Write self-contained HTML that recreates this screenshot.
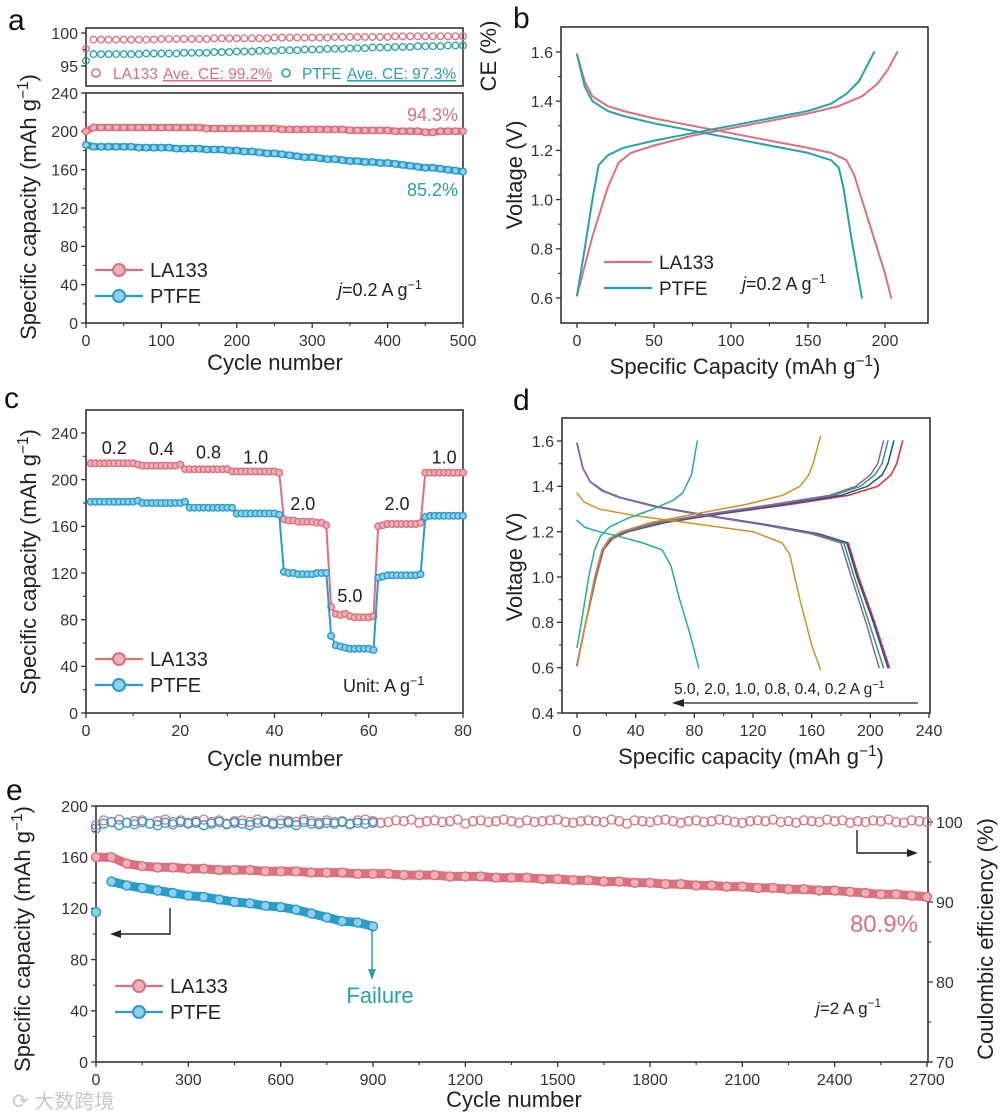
<!DOCTYPE html>
<html><head><meta charset="utf-8">
<style>
html,body{margin:0;padding:0;background:#fff;}
svg{display:block;font-family:"Liberation Sans","Noto Sans CJK SC",sans-serif;}
</style></head>
<body>
<svg id="fig" width="1000" height="1115" viewBox="0 0 1000 1115" xmlns="http://www.w3.org/2000/svg"></svg>
<script>
// ---------- Panel a data ----------
const aCapCycles = [0,10,20,30,40,50,60,70,80,90,100,110,120,130,140,150,160,170,180,190,200,210,220,230,240,250,260,270,280,290,300,310,320,330,340,350,360,370,380,390,400,410,420,430,440,450,460,470,480,490,500];
const aLaCap = [200,204,204,204,204,204,204,204,204,204,204,204,204,204,204,204,203,203,203,203,203,203,203,203,203,203,202,202,202,202,202,202,202,202,202,201,201,201,201,201,201,200,200,200,200,199,199,200,200,200,200];
const aPtCap = [186,184,184,184,184,184,184,183,183,183,183,183,182,182,182,182,181,181,181,180,180,179,179,178,177,177,176,175,174,173,173,172,171,171,170,169,169,168,168,167,167,166,165,164,163,162,162,161,160,159,158];
const aLaCE = [97.6,99.0,99.0,99.0,99.0,99.0,99.0,99.0,99.0,99.0,99.1,99.1,99.1,99.1,99.1,99.1,99.1,99.2,99.2,99.2,99.2,99.2,99.2,99.2,99.2,99.3,99.3,99.3,99.3,99.3,99.3,99.3,99.3,99.4,99.4,99.4,99.4,99.4,99.4,99.4,99.4,99.5,99.5,99.5,99.5,99.5,99.5,99.5,99.5,99.5,99.5];
const aPtCE = [95.8,96.8,96.8,96.8,96.8,96.8,96.8,96.8,96.9,96.9,96.9,96.9,96.9,97.0,97.0,97.0,97.0,97.1,97.1,97.1,97.2,97.2,97.2,97.3,97.3,97.3,97.4,97.4,97.4,97.5,97.5,97.5,97.6,97.6,97.6,97.7,97.7,97.7,97.8,97.8,97.8,97.9,97.9,97.9,98.0,98.0,98.0,98.0,98.1,98.1,98.1];
const aXTicks = [0,100,200,300,400,500];
const aYTicks = [0,40,80,120,160,200,240];
const aCETicks = [95,100];

// ---------- Panel b data ----------
const bLaChgCap = [0,10,20,27,35,50,75,100,125,150,170,185,195,202,208];
const bLaChgV   = [0.61,0.85,1.05,1.15,1.19,1.22,1.26,1.29,1.32,1.35,1.38,1.42,1.47,1.53,1.60];
const bLaDisCap = [0,5,10,20,30,50,75,100,125,150,165,175,180,190,200,204];
const bLaDisV   = [1.59,1.48,1.42,1.38,1.36,1.33,1.30,1.27,1.24,1.21,1.19,1.16,1.10,0.90,0.70,0.60];
const bPtChgCap = [0,5,10,14,20,30,50,75,100,125,150,165,175,183,188,193];
const bPtChgV   = [0.61,0.80,1.00,1.14,1.18,1.21,1.24,1.27,1.30,1.33,1.36,1.39,1.43,1.48,1.54,1.60];
const bPtDisCap = [0,5,10,20,30,50,75,100,125,150,165,170,173,178,185];
const bPtDisV   = [1.59,1.46,1.40,1.36,1.34,1.31,1.28,1.25,1.22,1.19,1.16,1.13,1.05,0.85,0.60];
const bXTicks = [0,50,100,150,200];
const bYTicks = [0.6,0.8,1.0,1.2,1.4,1.6];

// ---------- Panel c data ----------
const cCycles = [1,2,3,4,5,6,7,8,9,10,11,12,13,14,15,16,17,18,19,20,21,22,23,24,25,26,27,28,29,30,31,32,33,34,35,36,37,38,39,40,41,42,43,44,45,46,47,48,49,50,51,52,53,54,55,56,57,58,59,60,61,62,63,64,65,66,67,68,69,70,71,72,73,74,75,76,77,78,79,80];
const cLa = [214,214,214,214,214,214,214,214,214,214,213,212,212,212,212,212,212,212,212,213,209,209,209,209,209,209,209,209,209,209,207,207,207,207,207,207,207,207,207,207,206,166,165,165,164,164,164,164,163,163,161,91,85,84,85,83,82,82,82,82,83,160,161,162,162,162,162,162,162,162,163,206,206,206,206,206,206,206,206,206];
const cPt = [181,181,181,181,181,181,181,181,181,181,182,180,180,180,180,180,180,180,180,180,181,176,176,176,176,176,176,176,176,176,176,171,171,171,171,171,171,171,171,171,170,121,120,120,119,119,119,119,120,120,120,66,58,57,56,55,55,55,55,55,54,116,117,118,118,118,118,118,118,118,119,168,169,169,169,169,169,169,169,169];
const cXTicks = [0,20,40,60,80];
const cYTicks = [0,40,80,120,160,200,240];
const cRateLabels = ["0.2","0.4","0.8","1.0","2.0","5.0","2.0","1.0"];
const cRateCycles = [6,16,26,36,46,56,66,76];
const cRateCaps = [222,221,218,214,174,95,174,214];

// ---------- Panel d data ----------
const dDisV4 = [1.59,1.48,1.42,1.38,1.35,1.31,1.27,1.23,1.19,1.15,1.0,0.8,0.6];
const dDis02 = [0,4,9,18,30,55,90,130,165,185,192,203,213];
const dDis04 = [0,4,9,18,30,55,90,130,164,184,191,202,212];
const dDis08 = [0,4,9,18,30,54,89,128,162,182,189,199,209];
const dDis10 = [0,4,9,17,29,53,88,127,160,180,187,197,206];
const dChgV4 = [0.61,0.8,1.0,1.12,1.17,1.2,1.24,1.28,1.32,1.36,1.4,1.45,1.5,1.6];
const dChg02 = [0,6,13,18,24,35,60,100,145,185,205,214,218,222];
const dChg04 = [0,6,13,18,24,34,58,97,140,180,198,208,212,216];
const dChg08 = [0,6,13,18,23,33,56,94,136,175,193,203,208,212];
const dChg10 = [0,6,13,18,23,32,54,92,133,172,190,200,205,209];
const dChg20V = [0.62,0.8,1.0,1.12,1.17,1.2,1.24,1.28,1.32,1.36,1.4,1.45,1.5,1.62];
const dChg20 = [0,6,12,17,22,30,50,82,115,140,152,158,161,166];
const dDis20V = [1.37,1.33,1.3,1.27,1.24,1.2,1.15,1.1,0.9,0.7,0.59];
const dDis20 = [0,5,15,40,75,120,140,145,152,160,166];
const dChg50V = [0.69,0.8,1.0,1.12,1.18,1.22,1.26,1.3,1.34,1.37,1.45,1.6];
const dChg50 = [0,3,8,12,16,22,35,52,66,72,78,82];
const dDis50V = [1.25,1.22,1.2,1.18,1.15,1.12,1.05,0.9,0.75,0.6];
const dDis50 = [0,5,15,28,45,58,64,70,77,83];
const dXTicks = [0,40,80,120,160,200,240];
const dYTicks = [0.4,0.6,0.8,1.0,1.2,1.4,1.6];

// ---------- Panel e data ----------
const eLaCycles = [0,50,100,150,200,250,300,350,400,450,500,550,600,650,700,750,800,850,900,950,1000,1050,1100,1150,1200,1250,1300,1350,1400,1450,1500,1550,1600,1650,1700,1750,1800,1850,1900,1950,2000,2050,2100,2150,2200,2250,2300,2350,2400,2450,2500,2550,2600,2650,2700];
const eLaCap = [160,160,155,153,152,152,151,151,150,150,150,149,149,149,148,148,148,147,147,147,146,146,146,145,145,145,144,144,144,143,143,142,142,141,141,140,140,139,139,138,138,137,137,136,136,135,135,134,134,133,132,131,131,130,129];
const ePtCycles = [0,50,100,150,200,250,300,350,400,450,500,550,600,650,700,750,800,850,900];
const ePtCap = [117,141,138,136,134,132,130,129,127,125,124,122,121,119,116,113,110,109,106];
const eLaCE = [99.6,100.2,100.0,100.3,99.9,100.1,100.2,99.8,100.1,100.3,100.0,100.2,99.9,100.1,100.3,100.0,100.2,99.8,100.1,100.2,100.0,100.3,100.1,99.9,100.2,100.1,100.0,100.3,100.1,99.9,100.2,100.0,100.1,99.8,100.2,100.3,100.1,99.9,100.0,100.2,100.1,100.3,99.9,100.1,100.2,100.0,100.1,100.3,99.8,100.1,100.2,100.0,100.1,100.3,100.1,99.9,100.2,100.0,100.1,100.2,100.3,100.0,99.9,100.1,100.2,100.1,100.0,100.3,100.1,99.8,100.2,100.1,100.0,100.2,100.3,100.1,99.9,100.1,100.2,100.0,100.1,100.3,100.2,100.0,99.9,100.1,100.2,100.1,100.3,100.0,100.1,99.9,100.2,100.1,100.0,100.3,100.1,100.2,99.9,100.1,100.0,100.2,100.1,100.3,100.0,99.9,100.2,100.1,100.0];
const ePtCE = [99.2,99.8,100.0,99.6,99.9,99.7,100.0,99.8,99.6,99.9,99.7,100.0,99.8,99.9,99.6,99.8,100.0,99.7,99.9,99.8,99.6,99.9,100.0,99.7,99.8,99.9,99.6,100.0,99.8,99.7,99.9,99.8,100.0,99.7,99.9,99.8,99.9];
const eCEStep = 25;
const eXTicks = [0,300,600,900,1200,1500,1800,2100,2400,2700];
const eYTicks = [0,40,80,120,160,200];
const eRTicks = [70,80,90,100];

// ---------- helpers ----------
const NS = "http://www.w3.org/2000/svg";
const svg = document.getElementById('fig');
const PINK = "#d9717f", PINKL = "#eeb0b8", BLUE = "#2b9bc9", BLUEL = "#8fd0ea", TEAL = "#2aa0a8", AX = "#333";
function mk(tag, attrs, parent) {
  const e = document.createElementNS(NS, tag);
  for (const k in attrs) e.setAttribute(k, attrs[k]);
  (parent || svg).appendChild(e);
  return e;
}
function lin(d0, d1, r0, r1) { return v => r0 + (v - d0) * (r1 - r0) / (d1 - d0); }
function txt(x, y, s, size, attrs, parent) {
  const t = mk('text', Object.assign({x: x, y: y, 'font-size': size, fill: AX}, attrs || {}), parent);
  t.textContent = s;
  return t;
}
function box(x0, y0, x1, y1, name) {
  const r = mk('rect', {x: x0, y: y0, width: x1 - x0, height: y1 - y0, fill: 'none', stroke: AX, 'stroke-width': 1.6});
  
  
}
function xAxis(ticks, sx, y, fs, name, fmt) {
  const g = mk('g', {});
  
  
  for (let i = 0; i < ticks.length; i++) {
    const x = sx(ticks[i]);
    mk('line', {x1: x, x2: x, y1: y, y2: y + 5, stroke: AX, 'stroke-width': 1.3}, g);
    if (i < ticks.length - 1) { const xm = sx((ticks[i] + ticks[i + 1]) / 2); mk('line', {x1: xm, x2: xm, y1: y, y2: y + 3, stroke: AX, 'stroke-width': 1.1}, g); }
    const t = txt(x, y + 7 + fs, fmt ? fmt(ticks[i]) : String(ticks[i]), fs, {'text-anchor': 'middle'}, g);
    
    
  }
}
function yAxis(ticks, sy, x, fs, name, fmt, right) {
  const g = mk('g', {});
  
  
  const d = right ? 1 : -1;
  for (let i = 0; i < ticks.length; i++) {
    const y = sy(ticks[i]);
    mk('line', {x1: x, x2: x + d * 5, y1: y, y2: y, stroke: AX, 'stroke-width': 1.3}, g);
    if (i < ticks.length - 1) { const ym = sy((ticks[i] + ticks[i + 1]) / 2); mk('line', {x1: x, x2: x + d * 3, y1: ym, y2: ym, stroke: AX, 'stroke-width': 1.1}, g); }
    const t = txt(x + d * 8, y + fs * 0.36, fmt ? fmt(ticks[i]) : String(ticks[i]), fs, {'text-anchor': right ? 'start' : 'end'}, g);
    
    
  }
}
function rotText(x, y, s, size, name, sup) {
  const t = mk('text', {x: 0, y: 0, 'font-size': size, fill: '#222', 'text-anchor': 'middle', transform: 'translate(' + x + ',' + y + ') rotate(-90)'});
  
  
  t.innerHTML = s;
  return t;
}
function path(xs, ys, sx, sy, color, w, name, from) {
  let d = '';
  for (let i = from || 0; i < xs.length; i++) d += (d ? 'L' : 'M') + sx(xs[i]).toFixed(1) + ',' + sy(ys[i]).toFixed(1);
  const p = mk('path', {d: d, fill: 'none', stroke: color, 'stroke-width': w, 'stroke-linejoin': 'round', 'stroke-linecap': 'round'});
  
  
  return p;
}
function dots(xs, ys, sx, sy, color, light, r, name, open) {
  const g = mk('g', {});
  
  
  for (let i = 0; i < xs.length; i++) {
    const c = mk('circle', {cx: sx(xs[i]).toFixed(1), cy: sy(ys[i]).toFixed(1), r: r, fill: open ? 'none' : light, stroke: color, 'stroke-width': open ? 1.3 : 1.4}, g);
    
    
  }
}
const SUP = '<tspan baseline-shift="super" font-size="70%">−1</tspan>';
function panelLabel(x, y, s) {
  const t = txt(x, y, s, 30, {fill: '#111'});
  
  
}
function legendRow(x, y, color, light, label, marker, fs) {
  const g = mk('g', {});
  
  
  mk('line', {x1: x, x2: x + 48, y1: y, y2: y, stroke: color, 'stroke-width': 2.2}, g);
  if (marker) mk('circle', {cx: x + 24, cy: y, r: 6, fill: light, stroke: color, 'stroke-width': 2}, g);
  txt(x + 55, y + fs * 0.36, label, fs, {fill: '#222'}, g);
}

// ---------- Panel a ----------
panelLabel(8, 30, 'a');
{
  const sx = lin(0, 500, 86, 463);
  const syc = lin(95, 100, 66, 33);
  const sy = lin(0, 240, 323, 93);
  // CE box
  box(86, 28, 463, 86, 'ce-plot-frame');
  yAxis(aCETicks, syc, 86, 16, 'ce-y-axis');
  dots(aCapCycles, aLaCE, sx, syc, PINK, '', 3.3, 'la133-ce-series', true);
  dots(aCapCycles, aPtCE, sx, syc, TEAL, '', 3.3, 'ptfe-ce-series', true);
  const lg = mk('g', {});
  
  
  mk('circle', {cx: 96, cy: 73, r: 4, fill: 'none', stroke: PINK, 'stroke-width': 1.6}, lg);
  txt(113, 79, 'LA133 ', 15.5, {fill: PINK}, lg);
  txt(163, 79, 'Ave. CE: 99.2%', 15.5, {fill: PINK, 'text-decoration': 'underline'}, lg);
  mk('circle', {cx: 286, cy: 73, r: 4, fill: 'none', stroke: TEAL, 'stroke-width': 1.6}, lg);
  txt(302, 79, 'PTFE ', 15.5, {fill: TEAL}, lg);
  txt(347, 79, 'Ave. CE: 97.3%', 15.5, {fill: TEAL, 'text-decoration': 'underline'}, lg);
  // capacity
  box(86, 93, 463, 323, 'capacity-plot-frame');
  xAxis(aXTicks, sx, 323, 16, 'a-x-axis');
  yAxis(aYTicks, sy, 86, 16, 'a-y-axis');
  path(aCapCycles, aLaCap, sx, sy, PINK, 7, 'la133-capacity-line');
  dots(aCapCycles, aLaCap, sx, sy, PINK, PINKL, 3.3, 'la133-capacity-series');
  path(aCapCycles, aPtCap, sx, sy, BLUE, 7, 'ptfe-capacity-line');
  dots(aCapCycles, aPtCap, sx, sy, BLUE, BLUEL, 3.3, 'ptfe-capacity-series');
  let t = txt(458, 121, '94.3%', 18, {fill: PINK, 'text-anchor': 'end'});  
  t = txt(458, 196, '85.2%', 18, {fill: TEAL, 'text-anchor': 'end'});  
  legendRow(95, 270, PINK, PINKL, 'LA133', true, 20);
  legendRow(95, 296, BLUE, BLUEL, 'PTFE', true, 20);
  t = mk('text', {x: 338, y: 296, 'font-size': 18, fill: '#222'}); t.innerHTML = '<tspan font-style="italic">j</tspan>=0.2 A g' + SUP;  
  t = txt(275, 370, 'Cycle number', 22, {'text-anchor': 'middle', fill: '#222'});  
  rotText(36, 207, 'Specific capacity (mAh g' + SUP + ')', 22, 'y-axis-title');
  rotText(496, 56, 'CE (%)', 22, 'ce-axis-title');
}

// ---------- Panel b ----------
panelLabel(513, 28, 'b');
{
  const sx = lin(0, 200, 577, 885);
  const sy = lin(0.6, 1.6, 298, 52);
  box(561, 27, 928, 323, 'b-plot-frame');
  xAxis(bXTicks, sx, 323, 16, 'b-x-axis');
  yAxis(bYTicks, sy, 561, 16, 'b-y-axis', v => v.toFixed(1));
  path(bLaChgCap, bLaChgV, sx, sy, PINK, 2, 'la133-charge-curve');
  path(bLaDisCap, bLaDisV, sx, sy, PINK, 2, 'la133-discharge-curve');
  path(bPtChgCap, bPtChgV, sx, sy, TEAL, 2, 'ptfe-charge-curve');
  path(bPtDisCap, bPtDisV, sx, sy, TEAL, 2, 'ptfe-discharge-curve');
  legendRow(604, 262, PINK, '', 'LA133', false, 19);
  legendRow(604, 288, TEAL, '', 'PTFE', false, 19);
  let t = mk('text', {x: 742, y: 290, 'font-size': 18, fill: '#222'}); t.innerHTML = '<tspan font-style="italic">j</tspan>=0.2 A g' + SUP;  
  t = mk('text', {x: 745, y: 374, 'font-size': 22, fill: '#222', 'text-anchor': 'middle'}); t.innerHTML = 'Specific Capacity (mAh g' + SUP + ')';  
  rotText(522, 175, 'Voltage (V)', 22, 'y-axis-title');
}

// ---------- Panel c ----------
panelLabel(4, 408, 'c');
{
  const sx = lin(0, 80, 86, 463);
  const sy = lin(0, 240, 713, 433);
  box(86, 410, 463, 713, 'c-plot-frame');
  xAxis(cXTicks, sx, 713, 16, 'c-x-axis');
  yAxis(cYTicks, sy, 86, 16, 'c-y-axis');
  path(cCycles, cLa, sx, sy, PINK, 2, 'la133-rate-line');
  dots(cCycles, cLa, sx, sy, PINK, PINKL, 3.3, 'la133-rate-series');
  path(cCycles, cPt, sx, sy, BLUE, 2, 'ptfe-rate-line');
  dots(cCycles, cPt, sx, sy, BLUE, BLUEL, 3.3, 'ptfe-rate-series');
  for (let i = 0; i < cRateLabels.length; i++) {
    const t = txt(sx(cRateCycles[i]), sy(cRateCaps[i]), cRateLabels[i], 18, {'text-anchor': 'middle', fill: '#222'});
    
    
  }
  legendRow(95, 659, PINK, PINKL, 'LA133', true, 20);
  legendRow(95, 685, BLUE, BLUEL, 'PTFE', true, 20);
  let t = mk('text', {x: 343, y: 692, 'font-size': 18, fill: '#222'}); t.innerHTML = 'Unit: A g' + SUP;  
  t = txt(275, 766, 'Cycle number', 22, {'text-anchor': 'middle', fill: '#222'});  
  rotText(36, 562, 'Specific capacity (mAh g' + SUP + ')', 22, 'y-axis-title');
}

// ---------- Panel d ----------
panelLabel(513, 410, 'd');
{
  const sx = lin(0, 240, 577, 929);
  const sy = lin(0.4, 1.6, 713, 441);
  box(562, 418, 930, 713, 'd-plot-frame');
  xAxis(dXTicks, sx, 713, 16, 'd-x-axis');
  yAxis(dYTicks, sy, 562, 16, 'd-y-axis', v => v.toFixed(1));
  const C02 = '#d42e3a', C04 = '#1f4f9e', C08 = '#3c9a55', C10 = '#8b62b3', C20 = '#c8952c', C50 = '#25aba3';
  path(dDis02, dDisV4, sx, sy, C02, 1.5, 'discharge-0.2');
  path(dChg02, dChgV4, sx, sy, C02, 1.5, 'charge-0.2');
  path(dDis04, dDisV4, sx, sy, C04, 1.5, 'discharge-0.4');
  path(dChg04, dChgV4, sx, sy, C04, 1.5, 'charge-0.4');
  path(dDis08, dDisV4, sx, sy, C08, 1.5, 'discharge-0.8');
  path(dChg08, dChgV4, sx, sy, C08, 1.5, 'charge-0.8');
  path(dDis10, dDisV4, sx, sy, C10, 1.5, 'discharge-1.0');
  path(dChg10, dChgV4, sx, sy, C10, 1.5, 'charge-1.0');
  path(dDis20, dDis20V, sx, sy, C20, 1.5, 'discharge-2.0');
  path(dChg20, dChg20V, sx, sy, C20, 1.5, 'charge-2.0');
  path(dDis50, dDis50V, sx, sy, C50, 1.5, 'discharge-5.0');
  path(dChg50, dChg50V, sx, sy, C50, 1.5, 'charge-5.0');
  let t = mk('text', {x: 674, y: 694, 'font-size': 15.5, fill: '#222'}); t.innerHTML = '5.0, 2.0, 1.0, 0.8, 0.4, 0.2 A g' + SUP;  
  const ar = mk('g', {});  
  mk('line', {x1: 918, x2: 680, y1: 703, y2: 703, stroke: '#222', 'stroke-width': 1.3}, ar);
  mk('path', {d: 'M672,703 L684,699 L684,707 Z', fill: '#222'}, ar);
  t = mk('text', {x: 751, y: 764, 'font-size': 22, fill: '#222', 'text-anchor': 'middle'}); t.innerHTML = 'Specific capacity (mAh g' + SUP + ')';  
  rotText(522, 567, 'Voltage (V)', 22, 'y-axis-title');
}

// ---------- Panel e ----------
panelLabel(6, 800, 'e');
{
  const sx = lin(0, 2700, 96, 927);
  const sy = lin(0, 200, 1062, 806);
  const sr = lin(70, 100, 1062, 822);
  box(96, 806, 928, 1062, 'e-plot-frame');
  xAxis(eXTicks, sx, 1062, 16, 'e-x-axis');
  yAxis(eYTicks, sy, 96, 16, 'e-y-axis');
  yAxis(eRTicks, sr, 928, 16, 'e-right-y-axis', null, true);
  const laCECycles = eLaCE.map((v, i) => i * eCEStep);
  const ptCECycles = ePtCE.map((v, i) => i * eCEStep);
  dots(laCECycles, eLaCE, sx, sr, PINK, '', 4.5, 'la133-ce-series', true);
  dots(ptCECycles, ePtCE, sx, sr, BLUE, '', 4.5, 'ptfe-ce-series', true);
  path(eLaCycles, eLaCap, sx, sy, PINK, 9, 'la133-capacity-line');
  dots(eLaCycles, eLaCap, sx, sy, PINK, PINKL, 4.5, 'la133-capacity-series');
  path(ePtCycles, ePtCap, sx, sy, BLUE, 9, 'ptfe-capacity-line', 1);
  dots(ePtCycles, ePtCap, sx, sy, BLUE, BLUEL, 4.5, 'ptfe-capacity-series');
  const a1 = mk('g', {});  
  mk('path', {d: 'M170,908 L170,934 L118,934', fill: 'none', stroke: '#222', 'stroke-width': 1.4}, a1);
  mk('path', {d: 'M110,934 L121,930 L121,938 Z', fill: '#222'}, a1);
  const a2 = mk('g', {});  
  mk('path', {d: 'M857,830 L857,853 L910,853', fill: 'none', stroke: '#222', 'stroke-width': 1.4}, a2);
  mk('path', {d: 'M918,853 L907,849 L907,857 Z', fill: '#222'}, a2);
  const a3 = mk('g', {});  
  mk('line', {x1: 372, x2: 372, y1: 929, y2: 972, stroke: TEAL, 'stroke-width': 1.5}, a3);
  mk('path', {d: 'M372,980 L368,969 L376,969 Z', fill: TEAL}, a3);
  let t = txt(380, 1003, 'Failure', 22, {'text-anchor': 'middle', fill: TEAL});  
  t = txt(918, 932, '80.9%', 24, {'text-anchor': 'end', fill: PINK});  
  legendRow(115, 986, PINK, PINKL, 'LA133', true, 20);
  legendRow(115, 1012, BLUE, BLUEL, 'PTFE', true, 20);
  t = mk('text', {x: 816, y: 1014, 'font-size': 17, fill: '#222'}); t.innerHTML = '<tspan font-style="italic">j</tspan>=2 A g' + SUP;  
  t = txt(514, 1107, 'Cycle number', 22, {'text-anchor': 'middle', fill: '#222'});  
  rotText(30, 939, 'Specific capacity (mAh g' + SUP + ')', 22, 'y-axis-title');
  rotText(993, 939, 'Coulombic efficiency (%)', 22, 'right-y-axis-title');
  t = txt(12, 1108, '⟳ 大数跨境', 20, {fill: '#c8c8c8'});  
}
</script>
</body></html>
